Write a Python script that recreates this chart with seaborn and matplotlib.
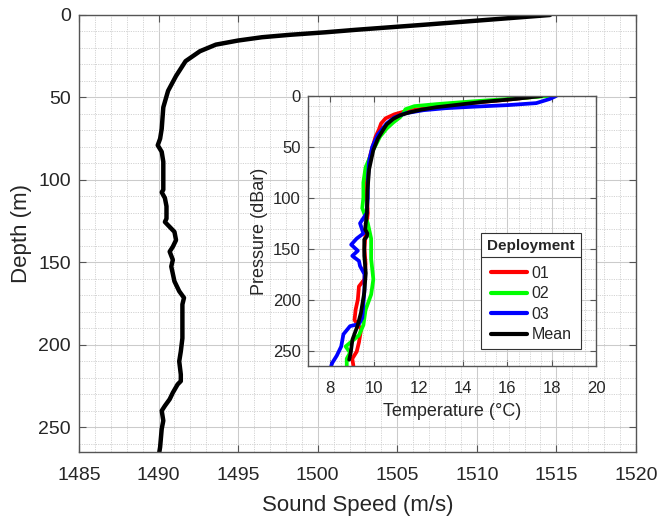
import numpy as np
import pandas as pd
import matplotlib
matplotlib.use("Agg")
import matplotlib.pyplot as plt
import seaborn as sns
from matplotlib.ticker import MultipleLocator
from matplotlib.lines import Line2D

sns.set_style("ticks")
plt.rcParams['font.family'] = ['Liberation Sans', 'DejaVu Sans']

# ---- main profile: sound speed vs depth ----
depth = [0, 3, 6, 9, 10.5, 12, 13.5, 15.5, 18, 22, 28, 37, 46, 56, 69, 75, 79, 83, 89, 97,
         106, 107.5, 111, 116, 123.5, 125.5, 128.5, 131.5, 136.5, 140.5, 143.5, 148.5, 152.5,
         161.5, 167.5, 171.5, 175.5, 185.5, 196, 204, 210, 218, 222, 224, 229, 233, 237, 240,
         246, 251, 262, 265]
speed = [1514.6, 1510.6, 1506.6, 1502.4, 1500.5, 1498.3, 1496.5, 1495.0, 1493.6, 1492.6,
         1491.7, 1491.1, 1490.6, 1490.3, 1490.2, 1490.1, 1489.95, 1490.2, 1490.3, 1490.3,
         1490.3, 1490.2, 1490.4, 1490.5, 1490.5, 1490.4, 1490.7, 1491.0, 1491.1, 1490.9,
         1490.7, 1490.9, 1490.8, 1491.0, 1491.3, 1491.6, 1491.5, 1491.5, 1491.5, 1491.4,
         1491.3, 1491.4, 1491.4, 1491.2, 1490.9, 1490.7, 1490.4, 1490.2, 1490.3, 1490.2,
         1490.1, 1490.05]

# ---- inset: temperature vs pressure per deployment ----
p01 = [0, 3, 6, 9, 12, 15, 18, 22, 27, 33, 40, 55, 75, 95, 115, 135, 150, 165, 180, 187,
       200, 210, 220, 229, 242, 251, 258, 265]
t01 = [17.5, 16.3, 14.8, 13.5, 12.3, 11.4, 10.9, 10.5, 10.3, 10.2, 10.05, 9.85, 9.6, 9.65,
       9.7, 9.6, 9.55, 9.6, 9.55, 9.3, 9.25, 9.15, 9.1, 9.4, 9.3, 9.2, 9.0, 9.05]
p02 = [0, 3, 5.5, 8, 10, 13, 17, 21, 26, 32, 40, 55, 70, 85, 100, 110, 125, 140, 160, 180,
       195, 210, 225, 235, 246, 252, 258, 265]
t02 = [17.85, 16.0, 14.3, 12.8, 11.8, 11.4, 11.3, 11.15, 10.85, 10.55, 10.25, 9.9, 9.6,
       9.5, 9.5, 9.45, 9.7, 9.85, 9.85, 9.95, 9.85, 9.6, 9.5, 9.3, 8.7, 8.9, 8.75, 8.75]
p03 = [0, 3, 7, 9, 10.5, 12, 14, 17, 21, 27, 38, 50, 65, 85, 100, 115, 125, 135, 140, 146,
       152, 157, 162, 167, 175, 190, 205, 218, 224, 226, 234, 246, 255, 262, 265]
t03 = [18.2, 17.9, 17.3, 16.0, 14.5, 13.2, 12.2, 11.4, 10.9, 10.55, 10.15, 9.9, 9.75, 9.7,
       9.7, 9.65, 9.35, 9.5, 9.2, 8.95, 9.25, 9.0, 9.3, 9.35, 9.55, 9.55, 9.5, 9.45, 9.3,
       8.9, 8.6, 8.5, 8.3, 8.1, 8.05]
pmean = [0, 3, 6, 9, 11, 13.5, 16, 19, 22.5, 28, 34, 42, 53, 72, 92, 115, 131, 135, 138,
         141, 157, 174, 193, 213, 226, 239, 252, 259]
tmean = [17.55, 16.3, 14.8, 13.6, 12.8, 12.1, 11.6, 11.15, 10.85, 10.55, 10.37, 10.15,
         9.95, 9.76, 9.69, 9.66, 9.58, 9.68, 9.66, 9.54, 9.54, 9.61, 9.54, 9.39, 9.23, 9.01,
         8.93, 8.86]

labels = ["01", "02", "03", "Mean"]
colors = {"01": "#ff0000", "02": "#00ff00", "03": "#0000ff", "Mean": "#000000"}

frames = []
for lab, p, t in zip(labels, [p01, p02, p03, pmean], [t01, t02, t03, tmean]):
    frames.append(pd.DataFrame({"Pressure": p, "Temperature": t, "Deployment": lab}))
df_in = pd.concat(frames, ignore_index=True)

TXT = "#262626"
SPINE = "#555555"


def style_axes(ax, xmaj, xmin, ymaj, ymin, fs):
    ax.xaxis.set_major_locator(MultipleLocator(xmaj))
    ax.xaxis.set_minor_locator(MultipleLocator(xmin))
    ax.yaxis.set_major_locator(MultipleLocator(ymaj))
    ax.yaxis.set_minor_locator(MultipleLocator(ymin))
    ax.grid(which="major", color="#cbcbcb", lw=0.75, ls="-")
    ax.grid(which="minor", color="#d3d3d3", lw=0.7, ls=(0, (1.2, 1.2)))
    ax.set_axisbelow(True)
    ax.tick_params(which="major", direction="in", length=5, width=0.8, color=SPINE,
                   top=True, right=True, labelsize=fs, labelcolor=TXT, pad=6)
    ax.tick_params(which="minor", length=0, top=True, right=True)
    for s in ax.spines.values():
        s.set_color(SPINE)
        s.set_linewidth(1.0)
        s.set_visible(True)


fig = plt.figure(figsize=(6.58, 5.16), dpi=100)
ax = fig.add_axes([0.120, 0.124, 0.8465, 0.847])
sns.lineplot(x=speed, y=depth, sort=False, estimator=None, color="black", lw=3.2, ax=ax)
ax.set_xlim(1485, 1520)
ax.set_ylim(265, 0)
style_axes(ax, 5, 1, 50, 10, 14)
ax.tick_params(axis="x", which="major", pad=11)
ax.set_xlabel("Sound Speed (m/s)", fontsize=16, color=TXT, labelpad=8)
ax.set_ylabel("Depth (m)", fontsize=16, color=TXT)

axi = fig.add_axes([0.468, 0.291, 0.438, 0.523])
axi.set_facecolor("white")
sns.lineplot(data=df_in, x="Temperature", y="Pressure", hue="Deployment", palette=colors,
             hue_order=labels, sort=False, estimator=None, lw=2.7, legend=False, ax=axi)
axi.set_xlim(7, 20)
axi.set_ylim(265, 0)
style_axes(axi, 2, 0.5, 50, 10, 12)
axi.tick_params(which="major", length=4, pad=5)
axi.tick_params(axis="x", which="major", pad=11)
axi.set_xlabel("Temperature (\u00b0C)", fontsize=13, color=TXT, labelpad=5)
axi.set_ylabel("Pressure (dBar)", fontsize=13, color=TXT)

handles = [Line2D([0], [0], color=colors[l], lw=3) for l in labels]
leg = axi.legend(handles, labels, title="Deployment", loc="upper left",
                 bbox_to_anchor=(0.60, 0.493), borderaxespad=0, fontsize=11.5,
                 title_fontsize=11, frameon=True, fancybox=False, edgecolor="#333333",
                 framealpha=1, handlelength=2.3, handletextpad=0.25, labelspacing=0.35,
                 borderpad=0.4)
leg.get_title().set_fontweight("bold")
leg._legend_box.sep = 9
leg.get_frame().set_linewidth(0.8)
for t in leg.get_texts():
    t.set_color(TXT)

fig.canvas.draw()
lb = leg.get_window_extent()
tb = leg.get_title().get_window_extent()
inv = fig.transFigure.inverted()
x0, _ = inv.transform((lb.x0, 0))
x1, _ = inv.transform((lb.x1, 0))
_, ysep = inv.transform((0, tb.y0 - 4))
fig.add_artist(Line2D([x0, x1], [ysep, ysep], transform=fig.transFigure,
                      color="#333333", lw=0.8))

fig.savefig("out.png", dpi=100)
